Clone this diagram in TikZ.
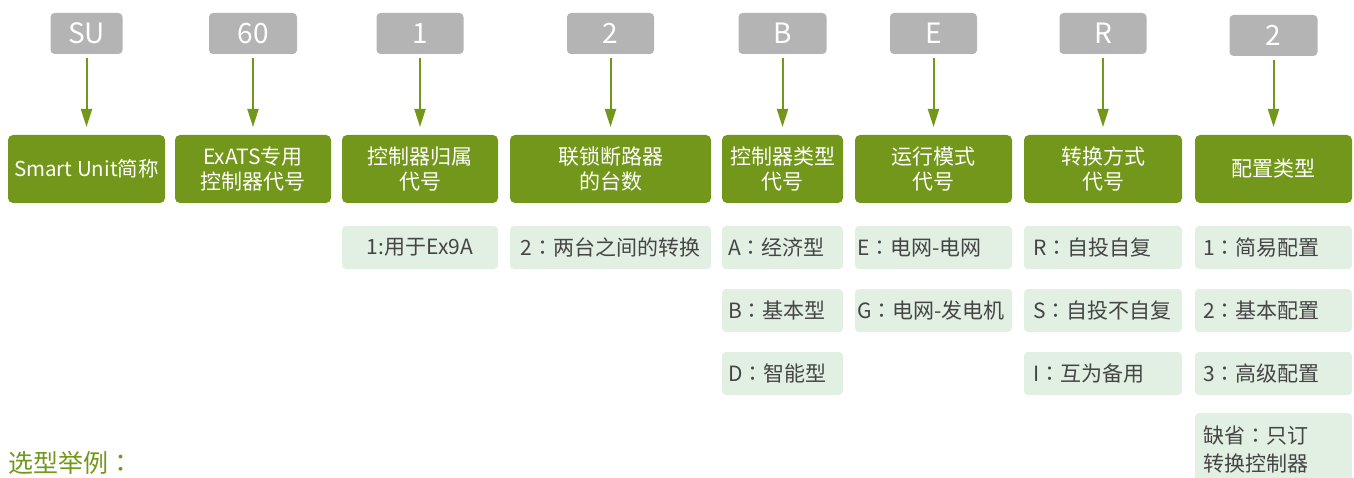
\documentclass[tikz,border=0pt]{standalone}
\usepackage{fontspec}
\setmainfont{Noto Sans CJK SC}
\newfontfamily\jpfont{Noto Sans CJK JP}
\newcommand{\fwc}{{\jpfont ：}}
\usepackage{xcolor}
\usetikzlibrary{arrows.meta, positioning}
\definecolor{leaf}{HTML}{72971A}
\definecolor{pale}{HTML}{E2EFE3}
\definecolor{stone}{HTML}{B4B4B4}
\definecolor{ink}{HTML}{454545}

\begin{document}
\begin{tikzpicture}[
  x=1pt, y=1pt,
  node distance=20pt and 10pt,
  code/.style={fill=stone, rounded corners=4pt, text=white, font=\fontsize{28}{32}\selectfont,
               minimum width=87pt, minimum height=41pt, inner sep=0pt, outer sep=0pt},
  head/.style={fill=leaf, rounded corners=5pt, text=white, align=center, font=\fontsize{21}{25}\selectfont,
               minimum height=68pt, inner sep=0pt, outer sep=0pt},
  opt/.style 2 args={fill=pale, rounded corners=4pt, text=ink, font=\fontsize{21}{28}\selectfont,
               minimum height=43pt, inner ysep=0pt, inner xsep=#1, text width=#2, outer sep=0pt},
  arr/.style={-{Triangle[length=18pt, width=11pt]}, draw=leaf, fill=leaf, line width=2pt,
              shorten <=4pt, shorten >=8pt}
]
  \useasboundingbox (0,0) rectangle (1354,-478);

  % Fields
  \node[head, minimum width=157pt, font=\fontsize{20.5}{25}\selectfont] (abbr) at (86.5,-169) {Smart Unit简称};
  \node[head, minimum width=156pt, right=10pt of abbr] (model) {ExATS专用\\控制器代号};
  \node[head, minimum width=156pt, right=11pt of model] (owner) {控制器归属\\代号};
  \node[head, minimum width=201pt, right=12pt of owner] (breakers) {联锁断路器\\的台数};
  \node[head, minimum width=121pt, right=11pt of breakers] (ctype) {控制器类型\\代号};
  \node[head, minimum width=157pt, right=12pt of ctype] (mode) {运行模式\\代号};
  \node[head, minimum width=158pt, right=12pt of mode] (switch) {转换方式\\代号};
  \node[head, minimum width=157pt, right=13pt of switch] (config) {配置类型};

  % Codes
  \node[code, minimum width=72pt, above=81pt of abbr] (abbrc) {SU};
  \node[code, minimum width=88pt, above=81pt of model] (modelc) {60};
  \node[code, above=81pt of owner] (ownerc) {1};
  \node[code, above=81pt of breakers] (breakersc) {2};
  \node[code, minimum width=88pt, above=81pt of ctype] (ctypec) {B};
  \node[code, above=81pt of mode] (modec) {E};
  \node[code, above=81pt of switch] (switchc) {R};
  \node[code, minimum width=88pt, above=79pt of config] (configc) {2};

  % Options
  \node[opt={4pt}{148pt}, align=center, below=23pt of owner] (owner1) {1:用于Ex9A};
  \node[opt={4pt}{193pt}, align=center, below=23pt of breakers] (breakers1) {2\fwc 两台之间的转换};

  \node[opt={6pt}{109pt}, align=left, below=23pt of ctype] (ctypeA) {A\fwc 经济型};
  \node[opt={6pt}{109pt}, align=left, below=of ctypeA] (ctypeB) {B\fwc 基本型};
  \node[opt={6pt}{109pt}, align=left, below=of ctypeB] (ctypeD) {D\fwc 智能型};

  \node[opt={2pt}{153pt}, align=left, below=23pt of mode] (modeE) {E\fwc 电网-电网};
  \node[opt={2pt}{153pt}, align=left, below=of modeE] (modeG) {G\fwc 电网-发电机};

  \node[opt={9pt}{140pt}, align=left, below=23pt of switch] (switchR) {R\fwc 自投自复};
  \node[opt={9pt}{140pt}, align=left, below=of switchR] (switchS) {S\fwc 自投不自复};
  \node[opt={9pt}{140pt}, align=left, below=of switchS] (switchI) {I\fwc 互为备用};

  \node[opt={8pt}{141pt}, align=left, below=23pt of config] (config1) {1\fwc 简易配置};
  \node[opt={8pt}{141pt}, align=left, below=of config1] (config2) {2\fwc 基本配置};
  \node[opt={8pt}{141pt}, align=left, below=of config2] (config3) {3\fwc 高级配置};
  \node[opt={8pt}{141pt}, align=left, minimum height=74pt, below=18pt of config3] (configdef)
    {缺省\fwc 只订\\转换控制器};

  % Example
  \node[anchor=west, inner sep=0pt, text=leaf, font=\fontsize{25}{28}\selectfont] (example) at (8,-463) {选型举例\fwc};

  % Arrows
  \draw[arr] (abbrc) -- (abbr);
  \draw[arr] (modelc) -- (model);
  \draw[arr] (ownerc) -- (owner);
  \draw[arr] (breakersc) -- (breakers);
  \draw[arr] (ctypec) -- (ctype);
  \draw[arr] (modec) -- (mode);
  \draw[arr] (switchc) -- (switch);
  \draw[arr] (configc) -- (config);
\end{tikzpicture}
\end{document}
